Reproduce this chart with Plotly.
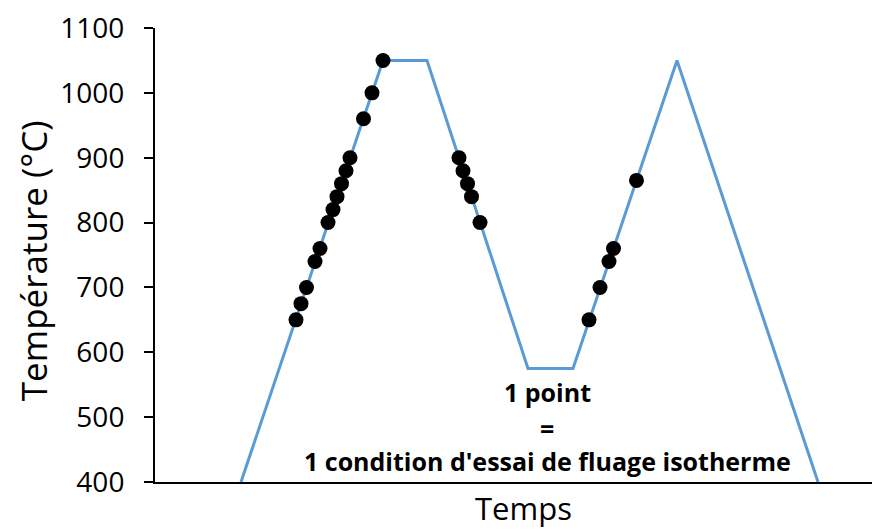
import plotly.graph_objects as go

# Temperature cycle (time in arbitrary units)
cycle_time = [86, 228, 272, 373, 418, 522, 663]
cycle_temp = [400, 1050, 1050, 575, 575, 1050, 400]

# Isothermal creep test conditions (points on the cycle)
pts_time = [141, 146, 151.5, 160, 165, 173, 178, 182, 186.5, 191, 195, 208.5, 217, 228,
            304, 308, 312.5, 316.5, 325,
            434, 445, 454, 458.5, 481.5]
pts_temp = [650, 675, 700, 740, 760, 800, 820, 840, 860, 880, 900, 960, 1000, 1050,
            900, 880, 860, 840, 800,
            650, 700, 740, 760, 865]

y_ticks = [400, 500, 600, 700, 800, 900, 1000, 1100]
note_lines = ["1 point", "=", "1 condition d'essai de fluage isotherme"]
note_y = [539, 484, 433]

FONT = "Open Sans"

fig = go.Figure()
fig.add_trace(go.Scatter(x=cycle_time, y=cycle_temp, mode="lines",
                         line=dict(color="#5B9BD5", width=3), showlegend=False,
                         hoverinfo="skip"))
fig.add_trace(go.Scatter(x=pts_time, y=pts_temp, mode="markers",
                         marker=dict(color="black", size=15), showlegend=False))

for txt, yy in zip(note_lines, note_y):
    fig.add_annotation(x=392, y=yy, xref="x", yref="y", text="<b>%s</b>" % txt,
                       showarrow=False, xanchor="center", yanchor="middle",
                       font=dict(family=FONT, size=25, color="black"))

fig.add_annotation(x=-0.168, y=0.5, xref="paper", yref="paper", yshift=-6,
                   text="Température (°C)", textangle=-90, showarrow=False,
                   xanchor="center", yanchor="middle",
                   font=dict(family=FONT, size=35, color="black"))
fig.add_annotation(x=0.5076, y=-0.058, xref="paper", yref="paper",
                   text="Temps", showarrow=False,
                   xanchor="center", yanchor="middle",
                   font=dict(family=FONT, size=31, color="black"))

fig.update_layout(
    width=880, height=530,
    margin=dict(l=147, r=8, t=20, b=56),
    plot_bgcolor="white", paper_bgcolor="white",
    font=dict(family=FONT, color="black"),
)
fig.update_xaxes(range=[0, 725], showgrid=False, zeroline=False, showticklabels=False,
                 ticks="", showline=True, linecolor="black", linewidth=2,
                 automargin=False)
fig.update_yaxes(range=[400, 1100], tickvals=y_ticks, showgrid=False, zeroline=False,
                 ticks="outside", ticklen=9, tickwidth=2, tickcolor="black",
                 showline=True, linecolor="black", linewidth=2,
                 ticklabelstandoff=14, ticklabeloverflow="allow", automargin=False,
                 tickfont=dict(family=FONT, size=28, color="black"))

fig.write_html("out.html")
